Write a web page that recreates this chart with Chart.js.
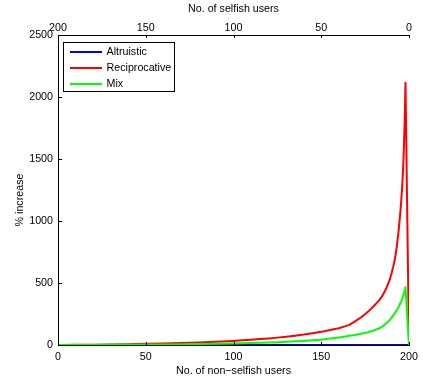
<!DOCTYPE html>
<html>
<head>
<meta charset="utf-8">
<script src="https://cdn.jsdelivr.net/npm/chart.js@4"></script>
<style>
  html, body { margin: 0; padding: 0; background: #fff; }
  #wrap { width: 432px; height: 381px; }
</style>
</head>
<body>
<div id="wrap"><canvas id="c" width="432" height="381"></canvas></div>
<script>
// Number of non-selfish users (x positions of the samples)
const nonSelfish = [0, 20, 40, 60, 80, 100, 110, 120, 130, 140, 150, 160, 166, 172, 176, 180,
  183, 185, 187, 189, 190, 191, 192, 193, 194, 195, 195.5, 196, 196.5, 197, 197.5, 198, 200];

// % increase for each user model
const altruistic = [0, 0, 0, 0, 0, 0, 0, 0, 0, 0, 0, 0, 0, 0, 0, 0,
  0, 0, 0, 0, 0, 0, 0, 0, 0, 0, 0, 0, 0, 0, 0, 0, 0];
const reciprocative = [0, 3, 7, 13, 21, 33, 42, 53, 66, 84, 106, 135, 162, 216, 260, 315,
  360, 400, 455, 525, 575, 632, 695, 790, 910, 1060, 1150, 1250, 1380, 1550, 1790, 2115, 0];
const mix = [0, 1, 3, 5, 8, 13, 16, 20, 26, 33, 43, 60, 74, 89, 100, 117,
  135, 150, 175, 200, 220, 238, 257, 280, 305, 335, 350, 368, 388, 410, 436, 465, 0];

// Axis ticks
const xTicks = [0, 50, 100, 150, 200];
const yTicks = [0, 500, 1000, 1500, 2000, 2500];

const seriesNames = ['Altruistic', 'Reciprocative', 'Mix'];
const seriesColors = ['#0000ff', '#ff0000', '#00ff00'];

const FONT = 'Liberation Sans, Arial, Helvetica, sans-serif';
const FS = 10.7;

function pts(ys) { return nonSelfish.map((x, i) => ({ x: x, y: ys[i] })); }
const plain = v => String(v);

// Inward tick marks, MATLAB style, plus the rotated y axis title
const innerTicks = {
  id: 'innerTicks',
  afterDraw(chart) {
    const ctx = chart.ctx, a = chart.chartArea;
    ctx.save();
    ctx.strokeStyle = '#000';
    ctx.lineWidth = 1;
    ctx.beginPath();
    const xs = chart.scales.x, xt = chart.scales.xTop, ys = chart.scales.y;
    xTicks.forEach(v => {
      const px = Math.round(xs.getPixelForValue(v)) + 0.5;
      ctx.moveTo(px, a.bottom); ctx.lineTo(px, a.bottom - 3);
      const pt = Math.round(xt.getPixelForValue(v)) + 0.5;
      ctx.moveTo(pt, a.top); ctx.lineTo(pt, a.top + 3);
    });
    yTicks.forEach(v => {
      const py = Math.round(ys.getPixelForValue(v)) + 0.5;
      ctx.moveTo(a.left, py); ctx.lineTo(a.left + 4, py);
    });
    ctx.stroke();

    ctx.fillStyle = '#000';
    ctx.font = FS + 'px ' + FONT;
    ctx.textAlign = 'center';
    ctx.textBaseline = 'middle';
    ctx.translate(20, 200);
    ctx.rotate(-Math.PI / 2);
    ctx.fillText('% increase', 0, 0);
    ctx.restore();
  }
};

// Boxed legend in the upper-left corner of the plot
const boxLegend = {
  id: 'boxLegend',
  afterDraw(chart) {
    const ctx = chart.ctx;
    const a = chart.chartArea;
    const bx = a.left + 5.5, by = a.top + 7.5, bw = 111, bh = 49;
    ctx.save();
    ctx.fillStyle = '#fff';
    ctx.fillRect(bx, by, bw, bh);
    ctx.strokeStyle = '#000';
    ctx.lineWidth = 1;
    ctx.strokeRect(bx, by, bw, bh);
    ctx.font = FS + 'px ' + FONT;
    ctx.textBaseline = 'middle';
    ctx.textAlign = 'left';
    seriesNames.forEach((name, i) => {
      const y = by + 9.5 + i * 16;
      ctx.strokeStyle = seriesColors[i];
      ctx.lineWidth = 2;
      ctx.beginPath();
      ctx.moveTo(bx + 6.5, y);
      ctx.lineTo(bx + 38.5, y);
      ctx.stroke();
      ctx.fillStyle = '#000';
      ctx.fillText(name, bx + 43, y);
    });
    ctx.restore();
  }
};

// A tiny tension keeps Chart.js on its exact per-point path (no pixel-column merging)
const lineDs = (label, ys, color, order) => ({
  label: label,
  data: pts(ys),
  borderColor: color,
  backgroundColor: color,
  borderWidth: 2,
  borderJoinStyle: 'round',
  pointRadius: 0,
  tension: 0.001,
  fill: false,
  order: order
});

new Chart(document.getElementById('c'), {
  type: 'line',
  data: {
    datasets: [
      lineDs(seriesNames[0], altruistic, seriesColors[0], 2),
      lineDs(seriesNames[1], reciprocative, seriesColors[1], 1),
      lineDs(seriesNames[2], mix, seriesColors[2], 0)
    ]
  },
  options: {
    responsive: false,
    animation: false,
    devicePixelRatio: 1,
    layout: { padding: { left: 0, right: 23, top: 0, bottom: 0 } },
    plugins: {
      legend: { display: false },
      tooltip: { enabled: false }
    },
    scales: {
      x: {
        type: 'linear',
        position: 'bottom',
        min: 0, max: 200,
        afterBuildTicks: s => { s.ticks = xTicks.map(v => ({ value: v })); },
        afterFit: s => { s.height = 36; },
        grid: { drawOnChartArea: false, drawTicks: false },
        border: { display: true, color: '#000', width: 1 },
        ticks: { color: '#000', font: { family: FONT, size: FS }, padding: 5.5, maxRotation: 0, callback: plain },
        title: {
          display: true, text: 'No. of non\u2212selfish users', color: '#000',
          font: { family: FONT, size: FS }, padding: { top: 0, bottom: 3.5 }
        }
      },
      xTop: {
        type: 'linear',
        position: 'top',
        reverse: true,
        min: 0, max: 200,
        afterBuildTicks: s => { s.ticks = xTicks.map(v => ({ value: v })); },
        afterFit: s => { s.height = 35; },
        grid: { drawOnChartArea: false, drawTicks: false },
        border: { display: true, color: '#000', width: 1 },
        ticks: { color: '#000', font: { family: FONT, size: FS }, padding: 0.5, maxRotation: 0, callback: plain },
        title: {
          display: true, text: 'No. of selfish users', color: '#000',
          font: { family: FONT, size: FS }, padding: { top: 3, bottom: 0 }
        }
      },
      y: {
        type: 'linear',
        position: 'left',
        min: 0, max: 2500,
        afterBuildTicks: s => { s.ticks = yTicks.map(v => ({ value: v })); },
        afterFit: s => { s.width = 58; },
        grid: { drawOnChartArea: false, drawTicks: false },
        border: { display: true, color: '#000', width: 1 },
        ticks: { color: '#000', font: { family: FONT, size: FS }, padding: 5, callback: plain }
      }
    }
  },
  plugins: [innerTicks, boxLegend]
});
</script>
</body>
</html>
